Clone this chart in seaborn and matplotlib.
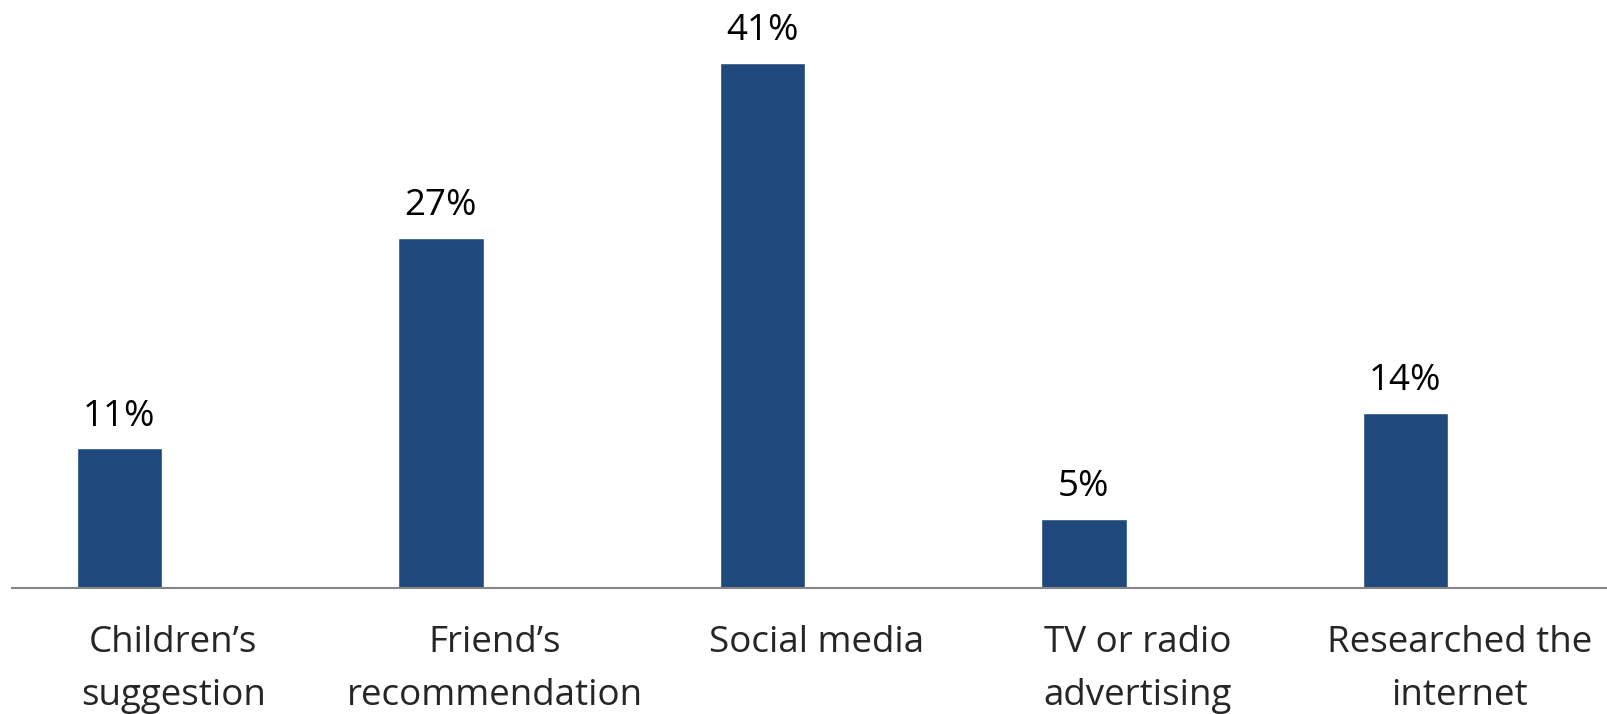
import matplotlib.pyplot as plt
import matplotlib.transforms as mtransforms
import pandas as pd
import seaborn as sns

categories = [
    "Children\u2019s\nsuggestion",
    "Friend\u2019s\nrecommendation",
    "Social media",
    "TV or radio\nadvertising",
    "Researched the\ninternet",
]
# bar heights (labels show them rounded)
shares = [10.9, 27.3, 41.0, 5.4, 13.7]

BAR_COLOR = "#1F497D"

sns.set_style("white")
plt.rcParams["font.family"] = ["Open Sans", "DejaVu Sans"]

df = pd.DataFrame({"source": categories, "share": shares})

fig = plt.figure(figsize=(16.08, 7.14), dpi=100)
ax = fig.add_axes([12 / 1608, 126 / 714, 1 - 12 / 1608, 586.5 / 714])

sns.barplot(
    data=df,
    x="source",
    y="share",
    order=categories,
    color=BAR_COLOR,
    width=0.265,
    saturation=1,
    ax=ax,
)

for p, val in zip(ax.patches, shares):
    ax.annotate(
        f"{round(val)}%",
        (p.get_x() + p.get_width() / 2, p.get_height()),
        xytext=(0, 16.5),
        textcoords="offset points",
        ha="center",
        va="baseline",
        fontsize=26.5,
        color="black",
    )

ax.set_xlim(-0.334, 4.63)
ax.set_ylim(0, 45.8)
ax.set_xlabel("")
ax.set_ylabel("")
ax.set_yticks([])
ax.tick_params(axis="x", length=0, pad=27, labelsize=26.5)

# category labels sit a little right of the bars in the original
shift = mtransforms.ScaledTranslation(0.54, 0, fig.dpi_scale_trans)
for lab in ax.get_xticklabels():
    lab.set_linespacing(1.6)
    lab.set_transform(lab.get_transform() + shift)

for side in ["top", "right", "left"]:
    ax.spines[side].set_visible(False)
ax.spines["bottom"].set_color("#868686")
ax.spines["bottom"].set_linewidth(1.5)

fig.savefig("out.png", dpi=100)
